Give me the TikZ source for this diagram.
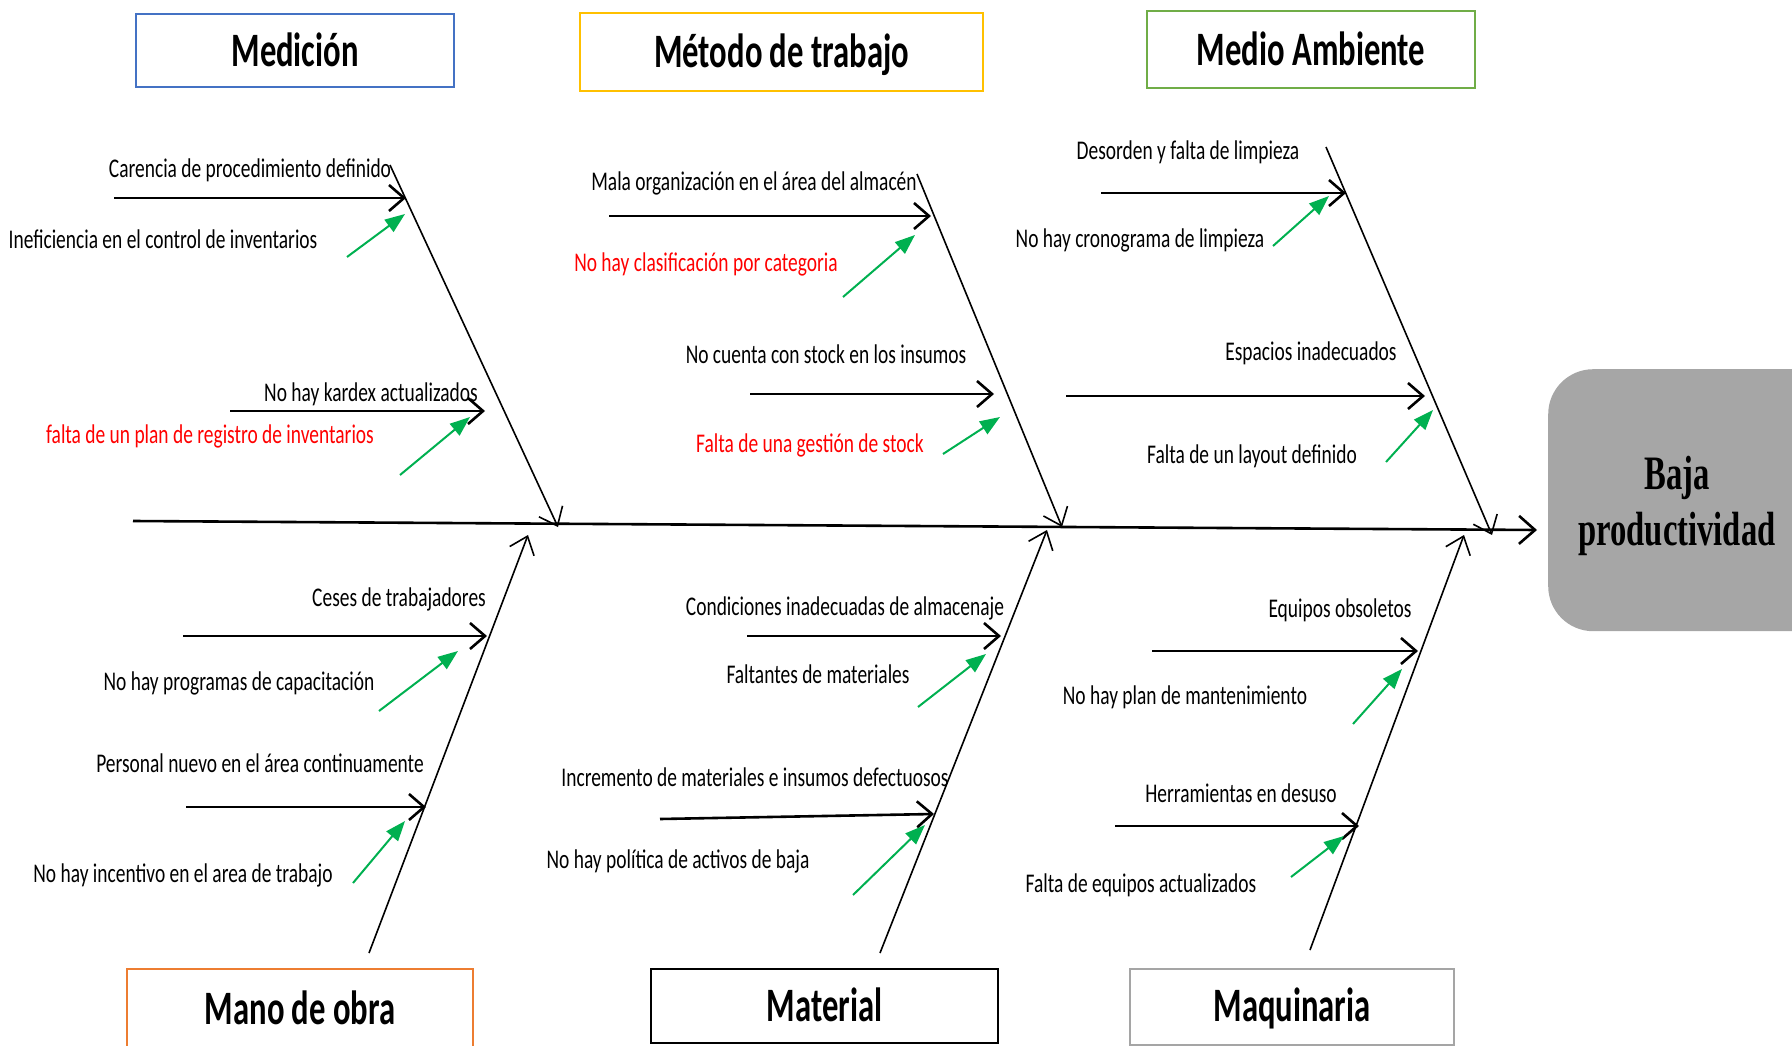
\documentclass[tikz,border=0pt]{standalone}
\usepackage{fontspec}
\setmainfont[FakeStretch=0.68]{Carlito}
\newfontfamily\causefont[FakeStretch=0.72]{Carlito}
\newfontfamily\efectofont[FakeStretch=0.68]{Liberation Serif}
\usetikzlibrary{arrows.meta}
\definecolor{cblue}{HTML}{4472C4}
\definecolor{cgold}{HTML}{FFC000}
\definecolor{cgreen}{HTML}{70AD47}
\definecolor{corange}{HTML}{ED7D31}
\definecolor{cgrey}{HTML}{A5A5A5}
\definecolor{hintgreen}{HTML}{00B050}
\definecolor{efectogrey}{HTML}{A6A6A6}
\begin{document}
\begin{tikzpicture}
  [x=1pt,y=-1pt,every node/.style={inner sep=0pt},
   cause/.style={font=\causefont\fontsize{27}{29}\selectfont,anchor=base},
   catbox/.style={draw,line width=2.2pt,anchor=north west,font=\fontsize{48}{50}\selectfont\bfseries},
   spine/.style={line width=2.6pt,-{Straight Barb[length=16pt,width=28pt]}},
   bone/.style={line width=1.6pt,-{Straight Barb[length=16pt,width=26pt]}},
   sub/.style={line width=2.6pt,-{Straight Barb[length=15pt,width=26pt]}},
   hint/.style={draw=hintgreen,line width=2pt,-{Triangle[length=20pt,width=15pt]}}]

  \useasboundingbox (0,0) rectangle (1792,1046);

  % categories
  \node[catbox,draw=cblue,minimum width=318pt,text height=52pt,text depth=21pt] (medicion) at (135,13) {Medición};
  \node[catbox,draw=cgold,minimum width=403pt,text height=54pt,text depth=24pt] (metodo) at (579,12) {Método de trabajo};
  \node[catbox,draw=cgreen,minimum width=328pt,text height=54pt,text depth=23pt] (ambiente) at (1146,10) {Medio Ambiente};
  \node[catbox,draw=corange,minimum width=346pt,text height=55pt,text depth=35pt] (manoobra) at (126,968) {Mano de obra};
  \node[catbox,draw=black,minimum width=347pt,text height=52pt,text depth=22pt] (material) at (650,968) {Material};
  \node[catbox,draw=cgrey,minimum width=324pt,text height=52pt,text depth=24pt] (maquinaria) at (1129,968) {Maquinaria};

  % effect
  \node[fill=efectogrey,rounded corners=45pt,anchor=north west,minimum width=320pt,minimum height=262pt] (efecto) at (1548,369) {};
  \node[font=\efectofont\fontsize{48}{56}\selectfont\bfseries,align=center,anchor=base] (efectotext) at (1677,545) {Baja\\productividad};

  % spine and bones
  \foreach \n/\x/\y in {sp0/133/521,sp1/1537/530,
      bm0/390/165,bm1/558/527,bt0/917/174,bt1/1062/527,ba0/1326/147,ba1/1492/535,
      bo0/369/953,bo1/528/535,bl0/880/953,bl1/1047/530,bq0/1310/950,bq1/1464/535}
    \coordinate (\n) at (\x,\y);
  \draw[spine] (sp0) -- (sp1);
  \foreach \from/\to in {bm0/bm1,bt0/bt1,ba0/ba1,bo0/bo1,bl0/bl1,bq0/bq1}
    \draw[bone] (\from) -- (\to);

  % causes
  \foreach \n/\xa/\ya/\xb/\yb in {m1/114/198/406/198,m2/230/411/485/411,
      t1/609/216/931/216,t2/750/394/994/394,a1/1101/193/1346/193,a2/1066/396/1425/396,
      o1/183/636/487/636,o2/186/807/426/807,l1/747/636/1001/636,l2/660/819/934/814,
      q1/1152/651/1418/651,q2/1115/826/1359/826}
  {
    \coordinate (\n a) at (\xa,\ya);
    \coordinate (\n b) at (\xb,\yb);
    \draw[sub] (\n a) -- (\n b);
  }

  % sub-causes
  \foreach \n/\xa/\ya/\xb/\yb in {m1/347/257/405/214,m2/400/475/470/417,
      t1/843/297/915/235,t2/943/454/1000/417,a1/1273/246/1329/196,a2/1386/462/1433/410,
      o1/379/711/458/651,o2/353/883/405/821,l1/918/707/986/654,l2/853/895/925/825,
      q1/1353/724/1402/669,q2/1291/877/1344/836}
  {
    \coordinate (h\n a) at (\xa,\ya);
    \coordinate (h\n b) at (\xb,\yb);
    \draw[hint] (h\n a) -- (h\n b);
  }

  % labels
  \foreach \n/\x/\y/\c/\t in {
      lm1/250/178/black/Carencia de procedimiento definido,
      lm1h/163/248/black/Ineficiencia en el control de inventarios,
      lm2/371/401/black/No hay kardex actualizados,
      lm2h/210/443/red/falta de un plan de registro de inventarios,
      lt1/754/190/black/Mala organización en el área del almacén,
      lt1h/706/271/red/No hay clasificación por categoria,
      lt2/826/363/black/No cuenta con stock en los insumos,
      lt2h/810/452/red/Falta de una gestión de stock,
      la1/1188/160/black/Desorden y falta de limpieza,
      la1h/1140/247/black/No hay cronograma de limpieza,
      la2/1311/360/black/Espacios inadecuados,
      la2h/1252/463/black/Falta de un layout definido,
      lo1/399/606/black/Ceses de trabajadores,
      lo1h/239/690/black/No hay programas de capacitación,
      lo2/260/772/black/Personal nuevo en el área continuamente,
      lo2h/183/882/black/No hay incentivo en el area de trabajo,
      ll1/845/615/black/Condiciones inadecuadas de almacenaje,
      ll1h/818/683/black/Faltantes de materiales,
      ll2/755/786/black/Incremento de materiales e insumos defectuosos,
      ll2h/678/868/black/No hay política de activos de baja,
      lq1/1340/617/black/Equipos obsoletos,
      lq1h/1185/704/black/No hay plan de mantenimiento,
      lq2/1241/802/black/Herramientas en desuso,
      lq2h/1141/892/black/Falta de equipos actualizados}
    \node[cause,text=\c] (\n) at (\x,\y) {\t};

\end{tikzpicture}
\end{document}
